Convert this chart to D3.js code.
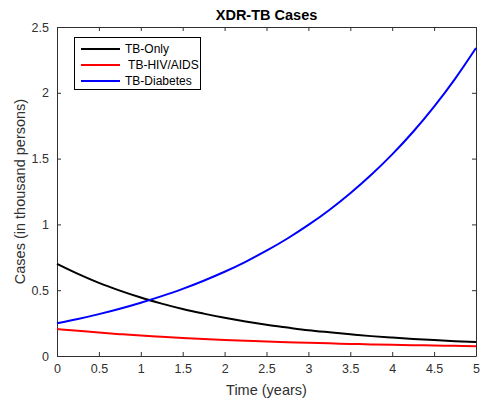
<!DOCTYPE html>
<html><head><meta charset="utf-8">
<script src="https://cdn.jsdelivr.net/npm/d3@7"></script>
<style>body{margin:0;background:#fff}svg{display:block}text{font-family:"Liberation Sans",Arial,sans-serif}</style>
</head><body>
<svg id="c" width="483" height="405"></svg>
<script>
const time = [0,0.25,0.5,0.75,1,1.25,1.5,1.75,2,2.25,2.5,2.75,3,3.25,3.5,3.75,4,4.25,4.5,4.75,5];
const tbOnly = [0.700,0.624,0.556,0.497,0.444,0.398,0.357,0.322,0.290,0.262,0.237,0.216,0.196,0.180,0.165,0.151,0.140,0.130,0.121,0.113,0.106];
const tbHiv = [0.205,0.191,0.178,0.166,0.155,0.146,0.137,0.129,0.122,0.116,0.110,0.105,0.100,0.096,0.092,0.088,0.085,0.082,0.080,0.077,0.075];
const tbDiab = [0.248,0.281,0.318,0.359,0.405,0.455,0.510,0.572,0.640,0.716,0.800,0.893,0.996,1.110,1.237,1.377,1.532,1.704,1.895,2.106,2.340];
const seriesNames = ["TB-Only"," TB-HIV/AIDS","TB-Diabetes"];
const seriesColors = ["#000000","#ff0000","#0000ff"];
const xTicks = [0,0.5,1,1.5,2,2.5,3,3.5,4,4.5,5];
const yTicks = [0,0.5,1,1.5,2,2.5];

const svg = d3.select("#c");
const L=57,R=476,T=27,B=356;
const x = d3.scaleLinear().domain([0,5]).range([L,R]);
const y = d3.scaleLinear().domain([0,2.5]).range([B,T]);
const ac="#303030";

svg.append("rect").attr("x",L).attr("y",T).attr("width",R-L).attr("height",B-T).attr("fill","#fff");

const fmt = d=>String(d);
const gb = svg.append("g").attr("transform",`translate(0,${B})`).call(d3.axisBottom(x).tickValues(xTicks).tickFormat(fmt).tickSizeInner(-4).tickSizeOuter(0).tickPadding(8));
const gt = svg.append("g").attr("transform",`translate(0,${T})`).call(d3.axisTop(x).tickValues(xTicks).tickFormat("").tickSizeInner(-4).tickSizeOuter(0));
const gl = svg.append("g").attr("transform",`translate(${L},0)`).call(d3.axisLeft(y).tickValues(yTicks).tickFormat(fmt).tickSizeInner(-4).tickSizeOuter(0).tickPadding(8));
const gr = svg.append("g").attr("transform",`translate(${R},0)`).call(d3.axisRight(y).tickValues(yTicks).tickFormat("").tickSizeInner(-4).tickSizeOuter(0));
[gb,gt,gl,gr].forEach(g=>{
  g.selectAll("path").attr("stroke",ac).attr("stroke-width",1);
  g.selectAll("line").attr("stroke",ac).attr("stroke-width",1);
  g.selectAll("text").attr("fill",ac).style("font-size","12.5px").style("font-family",'"Liberation Sans",Arial,sans-serif');
});

const all=[tbOnly,tbHiv,tbDiab];
const line=d3.line().x((d,i)=>x(time[i])).y(d=>y(d)).curve(d3.curveMonotoneX);
all.forEach((s,k)=>{
  svg.append("path").datum(s).attr("d",line).attr("fill","none").attr("stroke",seriesColors[k]).attr("stroke-width",2);
});

svg.append("text").attr("x",(L+R)/2).attr("y",20).attr("text-anchor","middle").style("font-weight","bold").style("font-size","14.5px").attr("fill","#000").text("XDR-TB Cases");
svg.append("text").attr("x",(L+R)/2).attr("y",395).attr("text-anchor","middle").style("font-size","14.5px").attr("fill",ac).text("Time (years)");
svg.append("text").attr("transform",`translate(25,${(T+B)/2}) rotate(-90)`).attr("text-anchor","middle").style("font-size","14.5px").attr("fill",ac).text("Cases (in thousand persons)");

const lg=svg.append("g");
lg.append("rect").attr("x",74.5).attr("y",37.5).attr("width",126).attr("height",52).attr("fill","#fff").attr("stroke","#000").attr("stroke-width",1);
seriesNames.forEach((n,k)=>{
  const yy=49+k*16;
  lg.append("line").attr("x1",81).attr("x2",120).attr("y1",yy).attr("y2",yy).attr("stroke",seriesColors[k]).attr("stroke-width",2);
  lg.append("text").attr("x",125).attr("y",yy+4).style("font-size","12px").style("white-space","pre").attr("xml:space","preserve").attr("fill","#000").text(n);
});
</script>
</body></html>
